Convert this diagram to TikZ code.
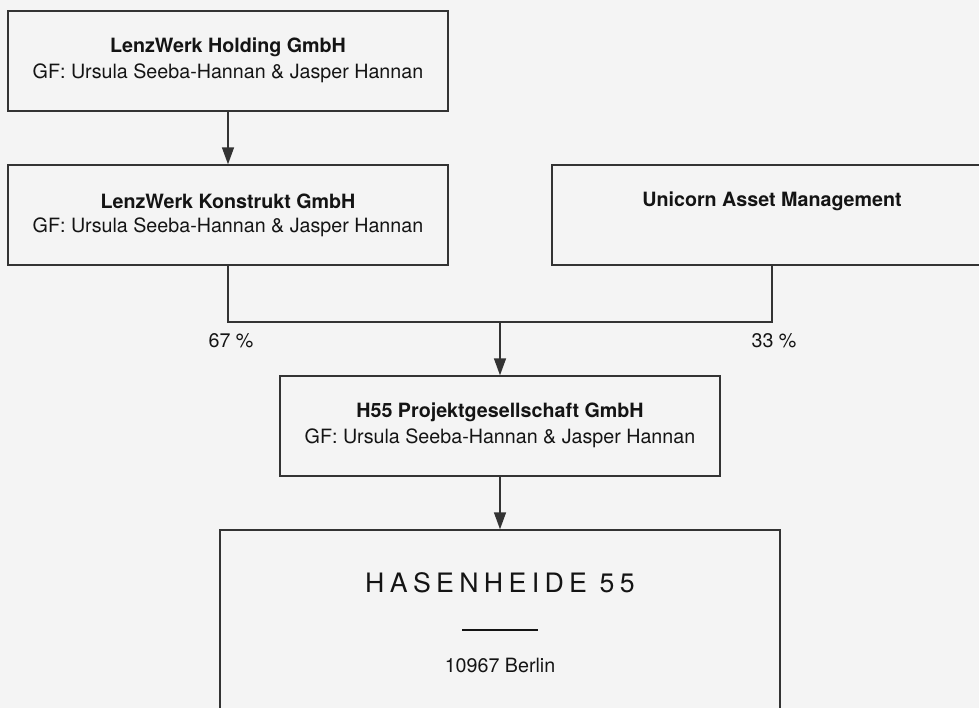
\documentclass[tikz,border=0pt]{standalone}
\usepackage{fontspec}
\setmainfont{TeX Gyre Heros}
\newfontfamily\spacedfont[LetterSpace=20]{TeX Gyre Heros}
\usepackage{tikz}
\usetikzlibrary{arrows.meta,positioning}
\usepackage{xcolor}
\definecolor{paper}{HTML}{F4F4F4}
\definecolor{ink}{HTML}{333333}
\definecolor{type}{HTML}{141414}

\begin{document}
\begin{tikzpicture}[>={Triangle[length=12pt,width=8.5pt]},line cap=butt,
  firm/.style={draw=ink,line width=1pt,minimum width=11cm,minimum height=2.5cm,inner sep=0pt},
  firmname/.style={text=type,font=\fontsize{14pt}{16pt}\selectfont\bfseries,inner sep=0pt},
  firmgf/.style={text=type,font=\fontsize{14pt}{16pt}\selectfont,inner sep=0pt},
  share/.style={text=type,font=\fontsize{14pt}{16pt}\selectfont,inner sep=0pt},
  link/.style={draw=ink,line width=1pt},
  arrowlink/.style={link,->}]
\useasboundingbox (0,0) rectangle (24.475,17.7);
\fill[paper] (0,0) rectangle (24.475,17.7);
\clip (0,0) rectangle (24.475,17.7);
% companies
\node[firm] (holding) at (5.7,16.175) {};
\node[firm] (konstrukt) at (5.7,12.325) {};
\node[firm] (unicorn) at (19.3,12.325) {};
\node[firm] (h55) at (12.5,7.05) {};
\node[firm,minimum width=14cm,minimum height=5cm] (site) at (12.5,1.95) {};
\node[firmname] (holdingname) at ([yshift=-0.92cm]holding.north) {LenzWerk Holding GmbH};
\node[firmgf] (holdinggf) at ([yshift=-1.57cm]holding.north) {GF: Ursula Seeba-Hannan \& Jasper Hannan};
\node[firmname] (konstruktname) at ([yshift=-0.92cm]konstrukt.north) {LenzWerk Konstrukt GmbH};
\node[firmgf] (konstruktgf) at ([yshift=-1.57cm]konstrukt.north) {GF: Ursula Seeba-Hannan \& Jasper Hannan};
\node[firmname] (unicornname) at ([yshift=-0.92cm]unicorn.north) {Unicorn Asset Management};
\node[firmname] (h55name) at ([yshift=-0.92cm]h55.north) {H55 Projektgesellschaft GmbH};
\node[firmgf] (h55gf) at ([yshift=-1.57cm]h55.north) {GF: Ursula Seeba-Hannan \& Jasper Hannan};
% property
\node[text=type,font=\fontsize{19pt}{22pt}\spacedfont,inner sep=0pt] (sitename) at (12.5,3.125) {HASENHEIDE 55};
\coordinate (ruleleft) at (11.56,1.95);
\coordinate (ruleright) at (13.44,1.95);
\draw[type,line width=1.5pt] (ruleleft) -- (ruleright);
\node[firmgf] (sitecity) at (12.5,1.075) {10967 Berlin};
% connections
\coordinate (join) at (12.5,9.65);
\draw[arrowlink] (holding) -- (konstrukt);
\draw[link] (konstrukt.south) |- (join) -| (unicorn.south);
\draw[arrowlink] (join) -- (h55.north);
\draw[arrowlink] (h55) -- (site);
\node[share] (sharek) at (5.775,9.175) {67 \%};
\node[share] (shareu) at (19.35,9.175) {33 \%};
\end{tikzpicture}
\end{document}
